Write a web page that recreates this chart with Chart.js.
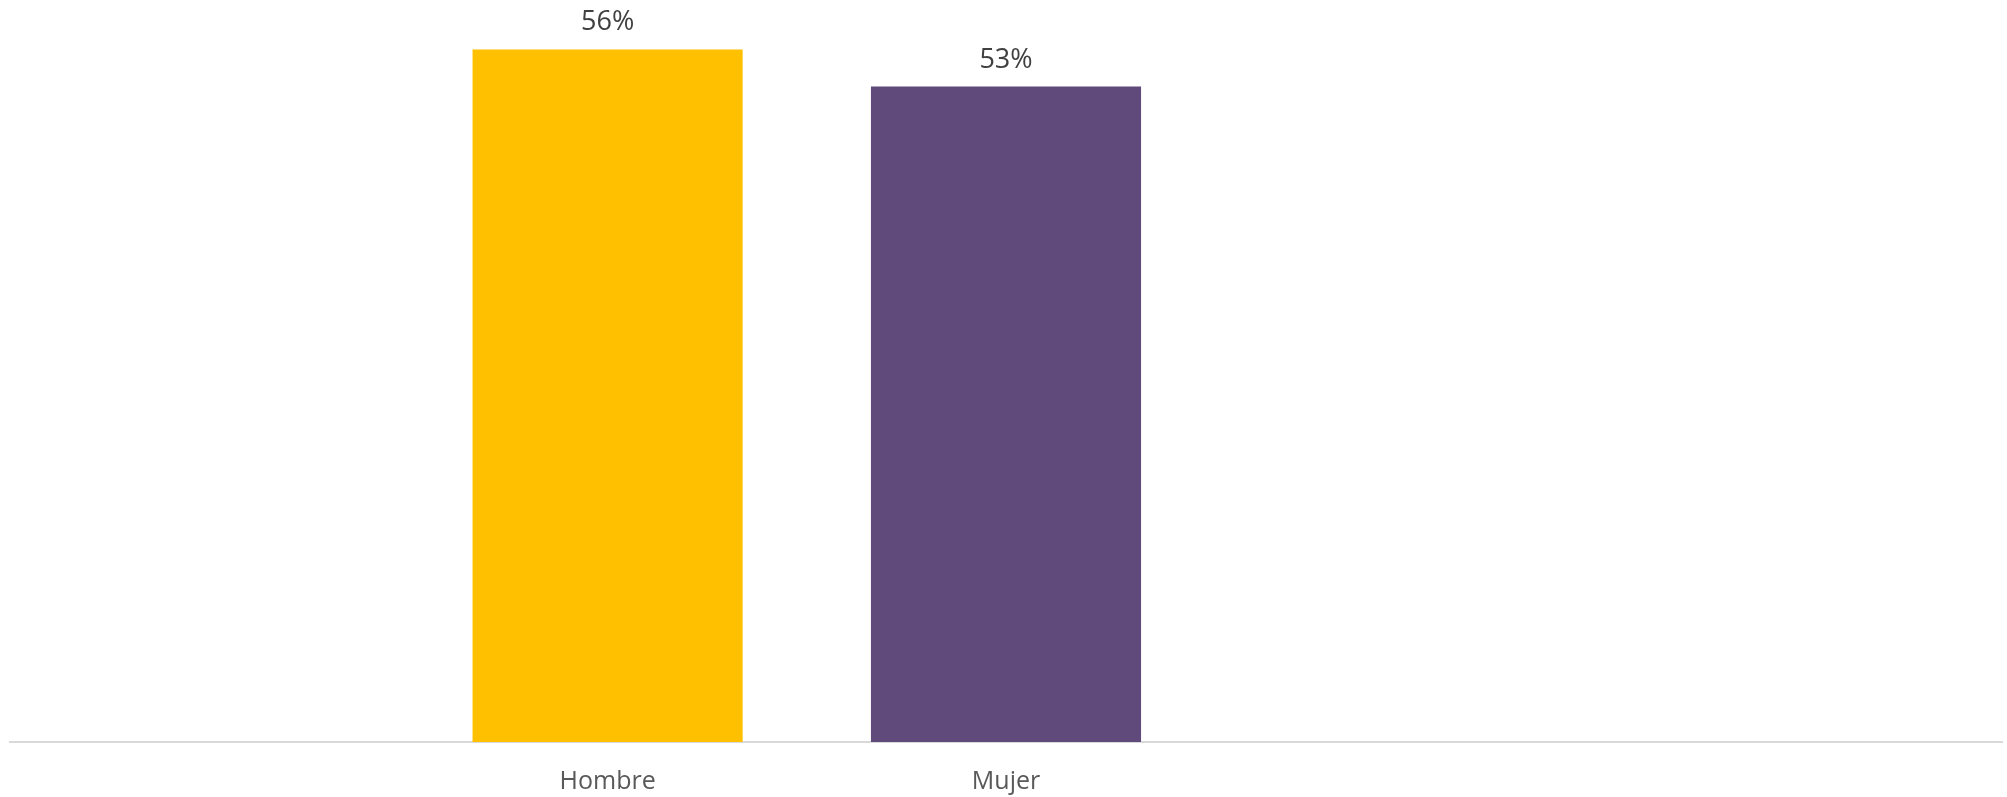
<!DOCTYPE html>
<html>
<head>
<meta charset="utf-8">
<style>
  html, body { margin: 0; padding: 0; background: #ffffff; }
  #wrap { width: 2007px; height: 797px; position: relative; }
</style>
<script src="https://cdn.jsdelivr.net/npm/chart.js@4.4.1/dist/chart.umd.min.js"></script>
</head>
<body>
<div id="wrap"><canvas id="c" width="2007" height="797"></canvas></div>
<script>
const categories = ["", "Hombre", "Mujer", "", ""];
const values = [null, 56, 53, null, null];
const barColors = ["#FFC000", "#FFC000", "#604A7B", "#604A7B", "#604A7B"];
const yMin = 0;
const yMax = 60;

const valueLabels = {
  id: 'valueLabels',
  afterDatasetsDraw(chart) {
    const ctx = chart.ctx;
    const meta = chart.getDatasetMeta(0);
    ctx.save();
    ctx.font = '27px "Open Sans", sans-serif';
    ctx.fillStyle = '#404040';
    ctx.textAlign = 'center';
    ctx.textBaseline = 'alphabetic';
    meta.data.forEach((bar, i) => {
      const v = values[i];
      if (v === null || v === undefined) return;
      ctx.fillText(v + '%', bar.x, bar.y - 19);
    });
    ctx.restore();
  }
};

new Chart(document.getElementById('c'), {
  type: 'bar',
  data: {
    labels: categories,
    datasets: [{
      data: values,
      backgroundColor: barColors,
      borderWidth: 0,
      categoryPercentage: 1.0,
      barPercentage: 0.678
    }]
  },
  options: {
    responsive: false,
    animation: false,
    layout: { padding: { left: 10, right: 5, top: 0, bottom: 0 } },
    plugins: { legend: { display: false }, tooltip: { enabled: false } },
    scales: {
      x: {
        grid: { display: false, drawTicks: false },
        border: { display: true, color: '#d9d9d9', width: 2 },
        ticks: {
          color: '#595959',
          font: { family: '"Open Sans", sans-serif', size: 25 },
          padding: 25,
          maxRotation: 0
        },
        afterFit(scale) { scale.height = 55; }
      },
      y: {
        display: false,
        min: yMin,
        max: yMax
      }
    }
  },
  plugins: [valueLabels]
});
</script>
</body>
</html>
